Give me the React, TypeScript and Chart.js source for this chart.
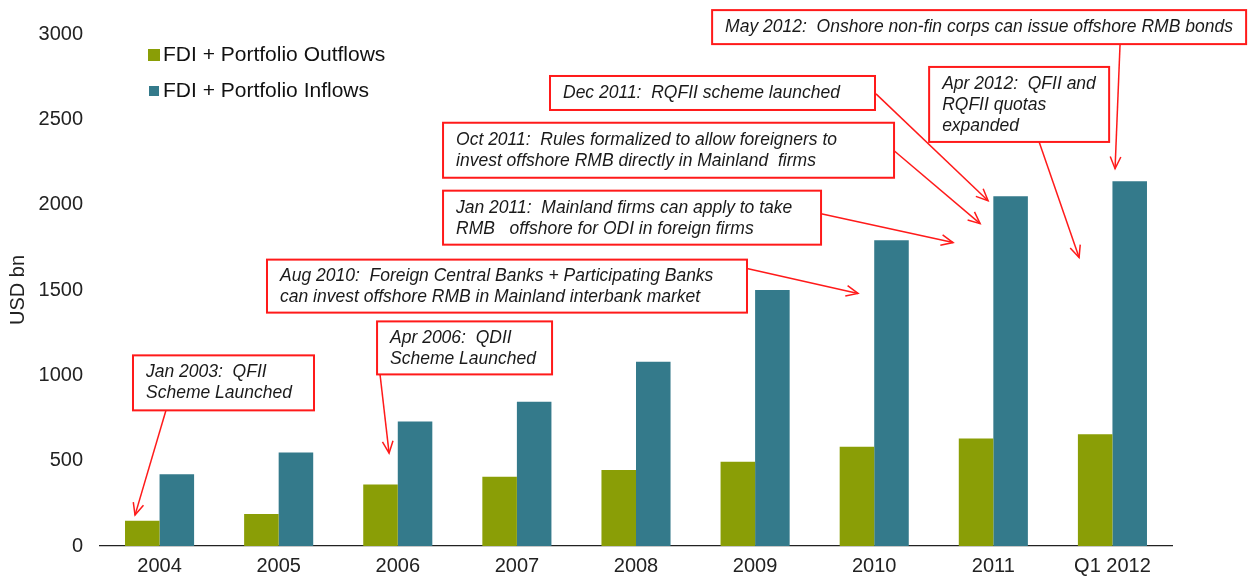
import React, { useEffect, useRef } from "react";
import { Chart, registerables } from "chart.js";

Chart.register(...registerables);

const categories = ["2004", "2005", "2006", "2007", "2008", "2009", "2010", "2011", "Q1 2012"];
const outflows = [148, 187, 360, 406, 446, 493, 581, 630, 655];
const inflows = [421, 548, 729, 845, 1079, 1500, 1792, 2050, 2137];
const seriesNames = ["FDI + Portfolio Outflows", "FDI + Portfolio Inflows"];
const seriesColors = ["#8a9e06", "#347a8b"];
const yMin = 0;
const yMax = 3000;
const yStep = 500;
const yTitle = "USD bn";

// Annotation boxes: anchor (c = category units, v = value units), box size in px,
// arrow from/to in category/value units.
const notes = [
  { lines: ["Jan 2003:  QFII", "Scheme Launched"], c: -0.223, v: 1117, w: 181, h: 55, from: [0.054, 795], to: [-0.206, 181] },
  { lines: ["Apr 2006:  QDII", "Scheme Launched"], c: 1.826, v: 1316, w: 175, h: 53, from: [1.851, 1006], to: [1.927, 544] },
  { lines: ["Aug 2010:  Foreign Central Banks + Participating Banks", "can invest offshore RMB in Mainland interbank market"], c: 0.902, v: 1678, w: 480, h: 53, from: [4.932, 1626], to: [5.864, 1480] },
  { lines: ["Jan 2011:  Mainland firms can apply to take", "RMB   offshore for ODI in foreign firms"], c: 2.38, v: 2082, w: 378, h: 54, from: [5.554, 1947], to: [6.662, 1778] },
  { lines: ["Oct 2011:  Rules formalized to allow foreigners to", "invest offshore RMB directly in Mainland  firms"], c: 2.38, v: 2480, w: 451, h: 55, from: [6.167, 2316], to: [6.889, 1889] },
  { lines: ["Dec 2011:  RQFII scheme launched"], c: 3.278, v: 2754, w: 325, h: 34, from: [6.015, 2649], to: [6.956, 2023] },
  { lines: ["May 2012:  Onshore non-fin corps can issue offshore RMB bonds"], c: 4.639, v: 3140, w: 534, h: 34, from: [8.064, 2942], to: [8.022, 2211] },
  { lines: ["Apr 2012:  QFII and", "RQFII quotas", "expanded"], c: 6.461, v: 2807, w: 180, h: 75, from: [7.384, 2368], to: [7.72, 1690] },
];

const FONT = "'Liberation Sans', Arial, Helvetica, sans-serif";
const RED = "#ff1a1a";

const overlayPlugin = {
  id: "overlay",
  afterDraw(chart: any) {
    const ctx = chart.ctx;
    const xs = chart.scales.x;
    const ys = chart.scales.y;
    const x0 = xs.getPixelForValue(0);
    const step = xs.getPixelForValue(1) - x0;
    const px = (c: number) => x0 + c * step;
    const py = (v: number) => ys.getPixelForValue(v);

    ctx.save();
    // Legend
    ctx.font = `21px ${FONT}`;
    ctx.textBaseline = "middle";
    ctx.textAlign = "left";
    ctx.fillStyle = seriesColors[0];
    ctx.fillRect(148, 49, 12, 12);
    ctx.fillStyle = seriesColors[1];
    ctx.fillRect(149, 86, 10, 10);
    ctx.fillStyle = "#111";
    ctx.fillText(seriesNames[0], 163, 55);
    ctx.fillText(seriesNames[1], 163, 91);

    // Annotations
    ctx.font = `italic 17.5px ${FONT}`;
    for (const n of notes) {
      const bx = px(n.c);
      const by = py(n.v);
      const fx = px(n.from[0]);
      const fy = py(n.from[1]);
      const tx = px(n.to[0]);
      const ty = py(n.to[1]);
      ctx.strokeStyle = RED;
      ctx.lineWidth = 1.5;
      ctx.beginPath();
      ctx.moveTo(fx, fy);
      ctx.lineTo(tx, ty);
      ctx.stroke();
      const ang = Math.atan2(ty - fy, tx - fx);
      const hl = 13;
      const ha = 0.42;
      ctx.beginPath();
      ctx.moveTo(tx - hl * Math.cos(ang - ha), ty - hl * Math.sin(ang - ha));
      ctx.lineTo(tx, ty);
      ctx.lineTo(tx - hl * Math.cos(ang + ha), ty - hl * Math.sin(ang + ha));
      ctx.stroke();
      ctx.fillStyle = "#ffffff";
      ctx.fillRect(bx, by, n.w, n.h);
      ctx.lineWidth = 2;
      ctx.strokeRect(bx, by, n.w, n.h);
      ctx.fillStyle = "#1a1a1a";
      n.lines.forEach((t, i) => {
        ctx.fillText(t, bx + 13, by + 17 + i * 21);
      });
    }
    ctx.restore();
  },
};

export default function App() {
  const ref = useRef<HTMLCanvasElement | null>(null);

  useEffect(() => {
    document.body.style.margin = "0";
    if (!ref.current) return;
    const chart = new Chart(ref.current, {
      type: "bar",
      data: {
        labels: categories,
        datasets: [
          {
            label: seriesNames[0],
            data: outflows,
            backgroundColor: seriesColors[0],
            categoryPercentage: 0.58,
            barPercentage: 1.0,
          },
          {
            label: seriesNames[1],
            data: inflows,
            backgroundColor: seriesColors[1],
            categoryPercentage: 0.58,
            barPercentage: 1.0,
          },
        ],
      },
      options: {
        animation: false,
        responsive: true,
        maintainAspectRatio: false,
        layout: { padding: { top: 34, right: 76, left: 0, bottom: 0 } },
        plugins: {
          legend: { display: false },
          tooltip: { enabled: false },
        },
        scales: {
          x: {
            grid: { display: false, drawTicks: false },
            border: { display: true, color: "#222", width: 1.2 },
            ticks: { color: "#222", font: { family: FONT, size: 20 }, padding: 8, maxRotation: 0, autoSkip: false },
            afterFit: (s: any) => {
              s.height = 30;
            },
          },
          y: {
            min: yMin,
            max: yMax,
            grid: { display: false, drawTicks: false },
            border: { display: false },
            ticks: {
              stepSize: yStep,
              color: "#222",
              font: { family: FONT, size: 20 },
              padding: 17,
              callback: (v: any) => String(v),
            },
            title: { display: true, text: yTitle, color: "#222", font: { family: FONT, size: 20 }, padding: { top: 6, bottom: 0 } },
            afterFit: (s: any) => {
              s.width = 100;
            },
          },
        },
      },
      plugins: [overlayPlugin],
    });
    return () => chart.destroy();
  }, []);

  return (
    <div style={{ position: "relative", width: 1248, height: 576, background: "#fff" }}>
      <canvas ref={ref} />
    </div>
  );
}
